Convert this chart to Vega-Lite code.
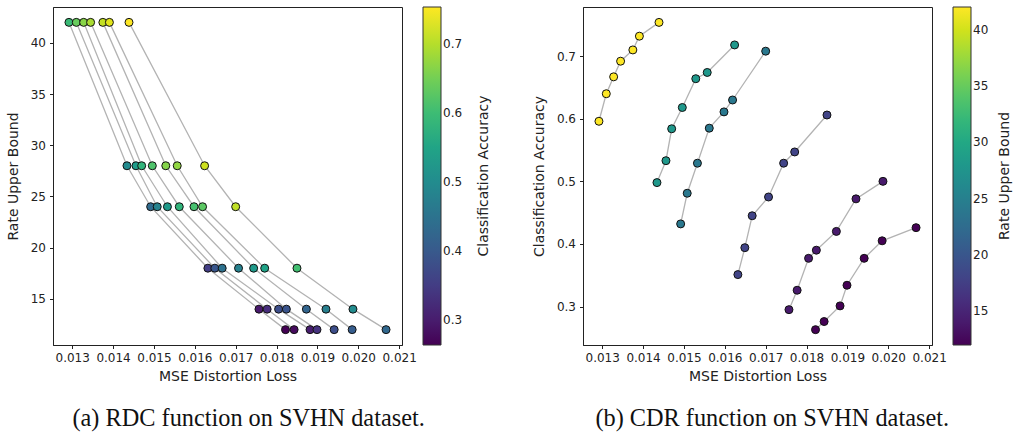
{
  "$schema": "https://vega.github.io/schema/vega-lite/v6.json",
  "padding": {"left": 5, "top": 6, "right": 0, "bottom": 0},
  "background": "white",
  "config": {
    "font": "DejaVu Sans",
    "view": {"stroke": "#222", "strokeWidth": 1},
    "axis": {
      "grid": false, "domainColor": "#222", "tickColor": "#222", "tickSize": 3.5,
      "labelFont": "DejaVu Sans", "labelFontSize": 12, "labelColor": "#222",
      "titleFont": "DejaVu Sans", "titleFontSize": 14, "titleFontWeight": "normal", "titleColor": "#222",
      "labelPadding": 4
    },
    "legend": {
      "gradientLength": 338, "gradientThickness": 18, "gradientStrokeColor": "#333", "gradientStrokeWidth": 1,
      "labelFont": "DejaVu Sans", "labelFontSize": 12, "labelColor": "#222", "labelOffset": 8,
      "titleFont": "DejaVu Sans", "titleFontSize": 14, "titleFontWeight": "normal", "titleColor": "#222",
      "titleOrient": "right", "titlePadding": 15, "offset": 21, "padding": 0
    }
  },
  "data": {"values": [
    {"series": 1, "rate": 42, "mse": 0.01292, "acc": 0.596},
    {"series": 2, "rate": 42, "mse": 0.01310, "acc": 0.640},
    {"series": 3, "rate": 42, "mse": 0.01328, "acc": 0.667},
    {"series": 4, "rate": 42, "mse": 0.01345, "acc": 0.692},
    {"series": 5, "rate": 42, "mse": 0.01375, "acc": 0.710},
    {"series": 6, "rate": 42, "mse": 0.01391, "acc": 0.732},
    {"series": 7, "rate": 42, "mse": 0.01439, "acc": 0.754},
    {"series": 1, "rate": 28, "mse": 0.01434, "acc": 0.498},
    {"series": 2, "rate": 28, "mse": 0.01456, "acc": 0.533},
    {"series": 3, "rate": 28, "mse": 0.01470, "acc": 0.584},
    {"series": 4, "rate": 28, "mse": 0.01496, "acc": 0.618},
    {"series": 5, "rate": 28, "mse": 0.01529, "acc": 0.664},
    {"series": 6, "rate": 28, "mse": 0.01557, "acc": 0.674},
    {"series": 7, "rate": 28, "mse": 0.01624, "acc": 0.718},
    {"series": 1, "rate": 24, "mse": 0.01492, "acc": 0.432},
    {"series": 2, "rate": 24, "mse": 0.01508, "acc": 0.481},
    {"series": 3, "rate": 24, "mse": 0.01533, "acc": 0.529},
    {"series": 4, "rate": 24, "mse": 0.01562, "acc": 0.585},
    {"series": 5, "rate": 24, "mse": 0.01598, "acc": 0.611},
    {"series": 6, "rate": 24, "mse": 0.01619, "acc": 0.630},
    {"series": 7, "rate": 24, "mse": 0.01700, "acc": 0.708},
    {"series": 1, "rate": 18, "mse": 0.01632, "acc": 0.351},
    {"series": 2, "rate": 18, "mse": 0.01649, "acc": 0.394},
    {"series": 3, "rate": 18, "mse": 0.01667, "acc": 0.445},
    {"series": 4, "rate": 18, "mse": 0.01707, "acc": 0.475},
    {"series": 5, "rate": 18, "mse": 0.01744, "acc": 0.529},
    {"series": 6, "rate": 18, "mse": 0.01771, "acc": 0.547},
    {"series": 7, "rate": 18, "mse": 0.01850, "acc": 0.606},
    {"series": 1, "rate": 14, "mse": 0.01757, "acc": 0.295},
    {"series": 2, "rate": 14, "mse": 0.01777, "acc": 0.326},
    {"series": 3, "rate": 14, "mse": 0.01805, "acc": 0.377},
    {"series": 4, "rate": 14, "mse": 0.01824, "acc": 0.390},
    {"series": 5, "rate": 14, "mse": 0.01873, "acc": 0.420},
    {"series": 6, "rate": 14, "mse": 0.01921, "acc": 0.472},
    {"series": 7, "rate": 14, "mse": 0.01987, "acc": 0.500},
    {"series": 1, "rate": 12, "mse": 0.01822, "acc": 0.263},
    {"series": 2, "rate": 12, "mse": 0.01843, "acc": 0.276},
    {"series": 3, "rate": 12, "mse": 0.01882, "acc": 0.301},
    {"series": 4, "rate": 12, "mse": 0.01899, "acc": 0.334},
    {"series": 5, "rate": 12, "mse": 0.01941, "acc": 0.377},
    {"series": 6, "rate": 12, "mse": 0.01985, "acc": 0.405},
    {"series": 7, "rate": 12, "mse": 0.02068, "acc": 0.426}
  ]},
  "resolve": {"scale": {"x": "independent", "y": "independent", "color": "independent"}, "legend": {"color": "independent"}, "axis": {"x": "independent", "y": "independent"}},
  "spacing": 39,
  "hconcat": [
    {
      "width": 349, "height": 338,
      "title": {"text": "(a) RDC function on SVHN dataset.", "orient": "bottom", "anchor": "middle", "frame": "bounds", "font": "Liberation Serif", "fontSize": 24.3, "fontWeight": "normal", "color": "#111", "offset": 23},
      "layer": [
        {
          "mark": {"type": "line", "color": "#b3b3b3", "strokeWidth": 1.3},
          "encoding": {
            "x": {"field": "mse", "type": "quantitative", "scale": {"domain": [0.01253, 0.02107], "nice": false, "zero": false}},
            "y": {"field": "rate", "type": "quantitative", "scale": {"domain": [10.5, 43.5], "nice": false, "zero": false}},
            "detail": {"field": "series"},
            "order": {"field": "rate", "sort": "descending"}
          }
        },
        {
          "mark": {"type": "circle", "size": 64, "stroke": "#111", "strokeWidth": 1, "opacity": 1},
          "encoding": {
            "x": {"field": "mse", "type": "quantitative", "title": "MSE Distortion Loss", "scale": {"domain": [0.01253, 0.02107], "nice": false, "zero": false},
                  "axis": {"values": [0.013, 0.014, 0.015, 0.016, 0.017, 0.018, 0.019, 0.020, 0.021], "format": ".3f", "titlePadding": 6}},
            "y": {"field": "rate", "type": "quantitative", "title": "Rate Upper Bound", "scale": {"domain": [10.5, 43.5], "nice": false, "zero": false},
                  "axis": {"values": [15, 20, 25, 30, 35, 40], "titlePadding": 10}},
            "color": {"field": "acc", "type": "quantitative", "title": "Classification Accuracy",
                      "scale": {"scheme": "viridis", "domain": [0.263, 0.754]},
                      "legend": {"values": [0.3, 0.4, 0.5, 0.6, 0.7], "format": ".1f", "direction": "vertical",
                                 "encoding": {"title": {"angle": {"value": -90}, "baseline": {"value": "top"}}}}}
          }
        }
      ]
    },
    {
      "width": 349, "height": 338,
      "title": {"text": "(b) CDR function on SVHN dataset.", "orient": "bottom", "anchor": "middle", "frame": "bounds", "font": "Liberation Serif", "fontSize": 24.3, "fontWeight": "normal", "color": "#111", "offset": 23},
      "layer": [
        {
          "mark": {"type": "line", "color": "#b3b3b3", "strokeWidth": 1.3},
          "encoding": {
            "x": {"field": "mse", "type": "quantitative", "scale": {"domain": [0.01253, 0.02107], "nice": false, "zero": false}},
            "y": {"field": "acc", "type": "quantitative", "scale": {"domain": [0.2385, 0.7786], "nice": false, "zero": false}},
            "detail": {"field": "rate"},
            "order": {"field": "mse"}
          }
        },
        {
          "mark": {"type": "circle", "size": 64, "stroke": "#111", "strokeWidth": 1, "opacity": 1},
          "encoding": {
            "x": {"field": "mse", "type": "quantitative", "title": "MSE Distortion Loss", "scale": {"domain": [0.01253, 0.02107], "nice": false, "zero": false},
                  "axis": {"values": [0.013, 0.014, 0.015, 0.016, 0.017, 0.018, 0.019, 0.020, 0.021], "format": ".3f", "titlePadding": 6}},
            "y": {"field": "acc", "type": "quantitative", "title": "Classification Accuracy", "scale": {"domain": [0.2385, 0.7786], "nice": false, "zero": false},
                  "axis": {"values": [0.3, 0.4, 0.5, 0.6, 0.7], "format": ".1f", "titlePadding": 10}},
            "color": {"field": "rate", "type": "quantitative", "title": "Rate Upper Bound",
                      "scale": {"scheme": "viridis", "domain": [12, 42]},
                      "legend": {"values": [15, 20, 25, 30, 35, 40], "direction": "vertical", "titlePadding": 10,
                                 "encoding": {"title": {"angle": {"value": -90}, "baseline": {"value": "top"}}}}}
          }
        }
      ]
    }
  ]
}
